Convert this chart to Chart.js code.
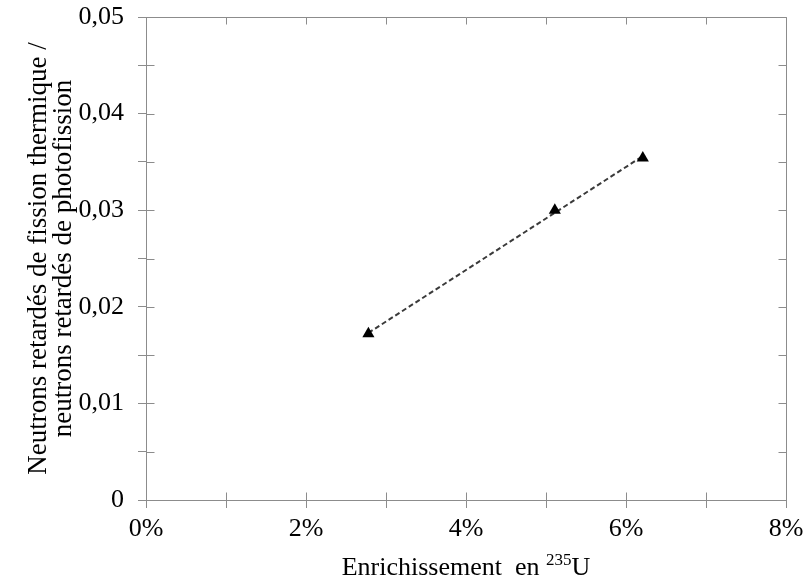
<!DOCTYPE html>
<html>
<head>
<meta charset="utf-8">
<script src="https://cdn.jsdelivr.net/npm/chart.js@4"></script>
<style>
  html, body { margin: 0; padding: 0; background: #fff; }
  #wrap { width: 807px; height: 583px; }
</style>
</head>
<body>
<div id="wrap"><canvas id="myChart"></canvas></div>
<script>
// ------------------------------------------------------------------DATA
const enrichment = [2.78, 5.11, 6.21];           // % 235U
const ratio = [0.0172, 0.0300, 0.0354];          // thermal / photofission
const trendX = [2.78, 6.21];
const trendY = [0.0173, 0.0356];

const xTickLabels = ["0%", "2%", "4%", "6%", "8%"];
const yTickLabels = ["0", "0,01", "0,02", "0,03", "0,04", "0,05"];
const yTitle = ["Neutrons retardés de fission thermique /", "neutrons retardés de photofission"];
const xTitle = "Enrichissement  en ";
const xTitleSup = "235";
const xTitleEnd = "U";

// ------------------------------------------------------------------STYLE
const axisColor = "#8c8c8c";
const fontFamily = "'Liberation Serif', 'Times New Roman', serif";

// ------------------------------------------------------------------PLUGIN
//     inner tick marks, top / right frame and the x title with superscript
const frame = {
  id: "frame",
  afterDraw(chart) {
    const ctx = chart.ctx;
    const { left, right, top, bottom } = chart.chartArea;
    const xs = chart.scales.x;
    const ys = chart.scales.y;
    const L = Math.round(left) + 0.5, R = Math.round(right) + 0.5;
    const T = Math.round(top) + 0.5, B = Math.round(bottom) + 0.5;

    ctx.save();
    ctx.strokeStyle = axisColor;
    ctx.lineWidth = 1;
    ctx.beginPath();
    ctx.moveTo(L, T); ctx.lineTo(R, T);
    ctx.moveTo(R, T); ctx.lineTo(R, B);
    xs.ticks.forEach((t) => {
      const px = Math.round(xs.getPixelForValue(t.value)) + 0.5;
      ctx.moveTo(px, B); ctx.lineTo(px, B - 8);
      ctx.moveTo(px, T); ctx.lineTo(px, T + 7);
    });
    ys.ticks.forEach((t) => {
      const py = Math.round(ys.getPixelForValue(t.value)) + 0.5;
      ctx.moveTo(L, py); ctx.lineTo(L + 8, py);
      ctx.moveTo(R, py); ctx.lineTo(R - 8, py);
    });
    ctx.stroke();

    // x title
    ctx.fillStyle = "#000";
    ctx.textBaseline = "alphabetic";
    ctx.font = "26px " + fontFamily;
    const w1 = ctx.measureText(xTitle).width;
    const w3 = ctx.measureText(xTitleEnd).width;
    ctx.font = "17px " + fontFamily;
    const w2 = ctx.measureText(xTitleSup).width;
    const total = w1 + w2 + w3;
    let x = (left + right) / 2 - total / 2;
    const baseY = 575;
    ctx.font = "26px " + fontFamily;
    ctx.fillText(xTitle, x, baseY);
    x += w1;
    ctx.font = "17px " + fontFamily;
    ctx.fillText(xTitleSup, x, baseY - 10);
    x += w2;
    ctx.font = "26px " + fontFamily;
    ctx.fillText(xTitleEnd, x, baseY);
    ctx.restore();
  },
};

// ------------------------------------------------------------------CHART
const graph = document.querySelector("#myChart");

const config = {
  type: "scatter",
  data: {
    datasets: [
      {
        label: "mesures",
        data: enrichment.map((v, i) => ({ x: v, y: ratio[i] })),
        pointStyle: "triangle",
        pointRadius: 7,
        backgroundColor: "#000",
        borderColor: "#000",
        borderWidth: 0,
      },
      {
        label: "tendance",
        type: "line",
        data: trendX.map((v, i) => ({ x: v, y: trendY[i] })),
        borderColor: "#3a3a3a",
        borderWidth: 2,
        borderDash: [5, 3],
        pointRadius: 0,
        fill: false,
      },
    ],
  },
  options: {
    responsive: true,
    maintainAspectRatio: false,
    animation: false,
    events: [],
    layout: { padding: { left: 0, top: 17, right: 21, bottom: 0 } },
    plugins: { legend: { display: false }, tooltip: { enabled: false } },
    scales: {
      x: {
        type: "linear",
        min: 0,
        max: 8,
        afterFit: (s) => { s.height = 83; s.paddingLeft = 0; s.paddingRight = 0; },
        border: { color: axisColor, width: 1 },
        grid: { drawOnChartArea: false, drawTicks: true, tickLength: 8, color: axisColor },
        ticks: {
          stepSize: 1,
          autoSkip: false,
          maxRotation: 0,
          padding: 6,
          color: "#000",
          font: { family: fontFamily, size: 26 },
          callback: (value, index) => (index % 2 === 0 ? xTickLabels[index / 2] : ""),
        },
      },
      y: {
        type: "linear",
        min: 0,
        max: 0.05,
        afterFit: (s) => { s.width = 146; s.paddingTop = 0; s.paddingBottom = 0; },
        border: { color: axisColor, width: 1 },
        grid: { drawOnChartArea: false, drawTicks: true, tickLength: 8, color: axisColor },
        title: {
          display: true,
          text: yTitle,
          color: "#000",
          font: { family: fontFamily, size: 27, lineHeight: 0.93 },
          padding: { top: 26, bottom: 0 },
        },
        ticks: {
          stepSize: 0.005,
          autoSkip: false,
          padding: 14,
          color: "#000",
          font: { family: fontFamily, size: 26 },
          callback: (value, index) => (index % 2 === 0 ? yTickLabels[index / 2] : ""),
        },
      },
    },
  },
  plugins: [frame],
};

new Chart(graph, config);
</script>
</body>
</html>
